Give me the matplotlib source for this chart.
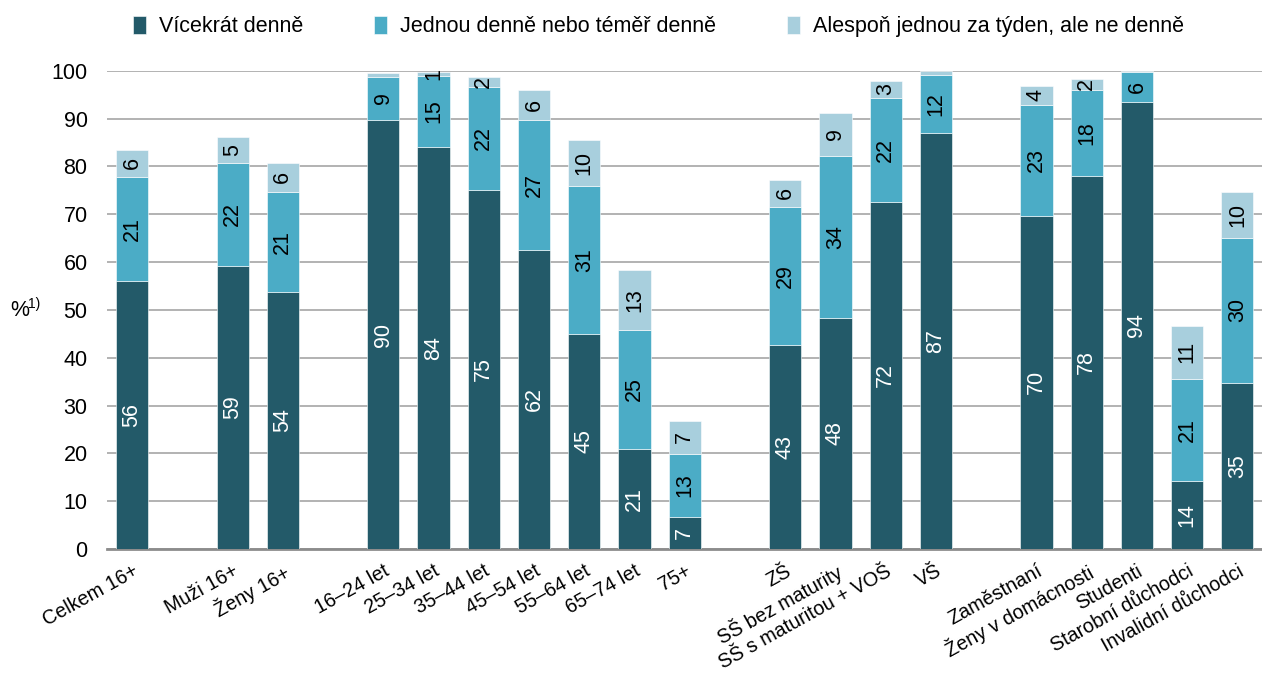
import matplotlib
matplotlib.use("Agg")
import matplotlib.pyplot as plt
import numpy as np

plt.rcParams['font.family'] = ['Liberation Sans', 'DejaVu Sans']

categories = ["Celkem 16+", None, "Muži 16+", "Ženy 16+", None,
              "16–24 let", "25–34 let", "35–44 let", "45–54 let", "55–64 let", "65–74 let", "75+", None,
              "ZŠ", "SŠ bez maturity", "SŠ s maturitou + VOŠ", "VŠ", None,
              "Zaměstnaní", "Ženy v domácnosti", "Studenti", "Starobní důchodci", "Invalidní důchodci"]

# segment heights (%), None = empty slot between groups
vicekrat = [56.1, None, 59.2, 53.8, None,
            89.7, 84.1, 75.1, 62.6, 45.0, 20.9, 6.7, None,
            42.7, 48.3, 72.6, 87.0, None,
            69.7, 78.0, 93.5, 14.2, 34.7]
jednou = [21.7, None, 21.6, 20.9, None,
          9.0, 14.9, 21.6, 27.1, 30.9, 24.9, 13.2, None,
          28.8, 33.9, 21.8, 12.2, None,
          23.2, 18.0, 6.3, 21.4, 30.4]
alespon = [5.7, None, 5.4, 6.1, None,
           0.9, 0.8, 2.0, 6.3, 9.7, 12.6, 6.9, None,
           5.7, 9.0, 3.5, 0.8, None,
           4.0, 2.3, 0.2, 11.1, 9.6]

lab_vicekrat = ["56", "", "59", "54", "", "90", "84", "75", "62", "45", "21", "7", "",
                "43", "48", "72", "87", "", "70", "78", "94", "14", "35"]
lab_jednou = ["21", "", "22", "21", "", "9", "15", "22", "27", "31", "25", "13", "",
              "29", "34", "22", "12", "", "23", "18", "6", "21", "30"]
lab_alespon = ["6", "", "5", "6", "", "", "1", "2", "6", "10", "13", "7", "",
               "6", "9", "3", "", "", "4", "2", "", "11", "10"]

series = ["Vícekrát denně", "Jednou denně nebo téměř denně", "Alespoň jednou za týden, ale ne denně"]
colors = ["#235a69", "#4bacc6", "#a8cfdd"]
text_colors = ["white", "black", "black"]

fs = 15.5

fig = plt.figure(figsize=(12.62, 6.91), dpi=100)
ax = fig.add_axes([0.0848, 0.2055, 0.9152, 0.692])

idx = [i for i, c in enumerate(categories) if c is not None]
x = np.array(idx, dtype=float)
bottom = np.zeros(len(idx))
for vals, labs, col, tc, name in zip([vicekrat, jednou, alespon],
                                     [lab_vicekrat, lab_jednou, lab_alespon],
                                     colors, text_colors, series):
    v = np.array([vals[i] for i in idx])
    ax.bar(x, v, 0.64, bottom=bottom, color=col, label=name, zorder=3,
           edgecolor="white", linewidth=0.4)
    for xi, vi, bi, i in zip(x, v, bottom, idx):
        if labs[i]:
            ax.text(xi, bi + vi / 2, labs[i], rotation=90, ha="center", va="center",
                    color=tc, fontsize=fs, zorder=4, clip_on=True)
    bottom += v

ax.set_xlim(-0.5, 22.49)
ax.set_ylim(0, 100)
ax.set_yticks(range(0, 101, 10))
ax.yaxis.grid(True, color="#a6a6a6", linewidth=1.2, zorder=0)
ax.set_axisbelow(True)
for s in ["top", "right", "left"]:
    ax.spines[s].set_visible(False)
ax.spines["bottom"].set_color("#8c8c8c")
ax.spines["bottom"].set_linewidth(2)
ax.tick_params(axis="y", length=0, labelsize=fs, pad=14)
ax.tick_params(axis="x", length=0, labelsize=14.2, pad=9)
ax.set_xticks(x)
ax.set_xticklabels([categories[i] for i in idx], rotation=29, ha="right",
                   rotation_mode="anchor")

# y label "%" with superscript "1)"
fig.text(10 / 1262, 1 - 310 / 691, "%", fontsize=fs, ha="left", va="center")
fig.text(28 / 1262, 1 - 304 / 691, "1)", fontsize=10, ha="left", va="center")

fig.legend(loc="upper center", bbox_to_anchor=(0.522, 1.005), ncol=3, frameon=False,
           fontsize=fs, handlelength=0.6, handleheight=0.9, handletextpad=0.6,
           columnspacing=3.3)

fig.savefig("out.png", dpi=100)
